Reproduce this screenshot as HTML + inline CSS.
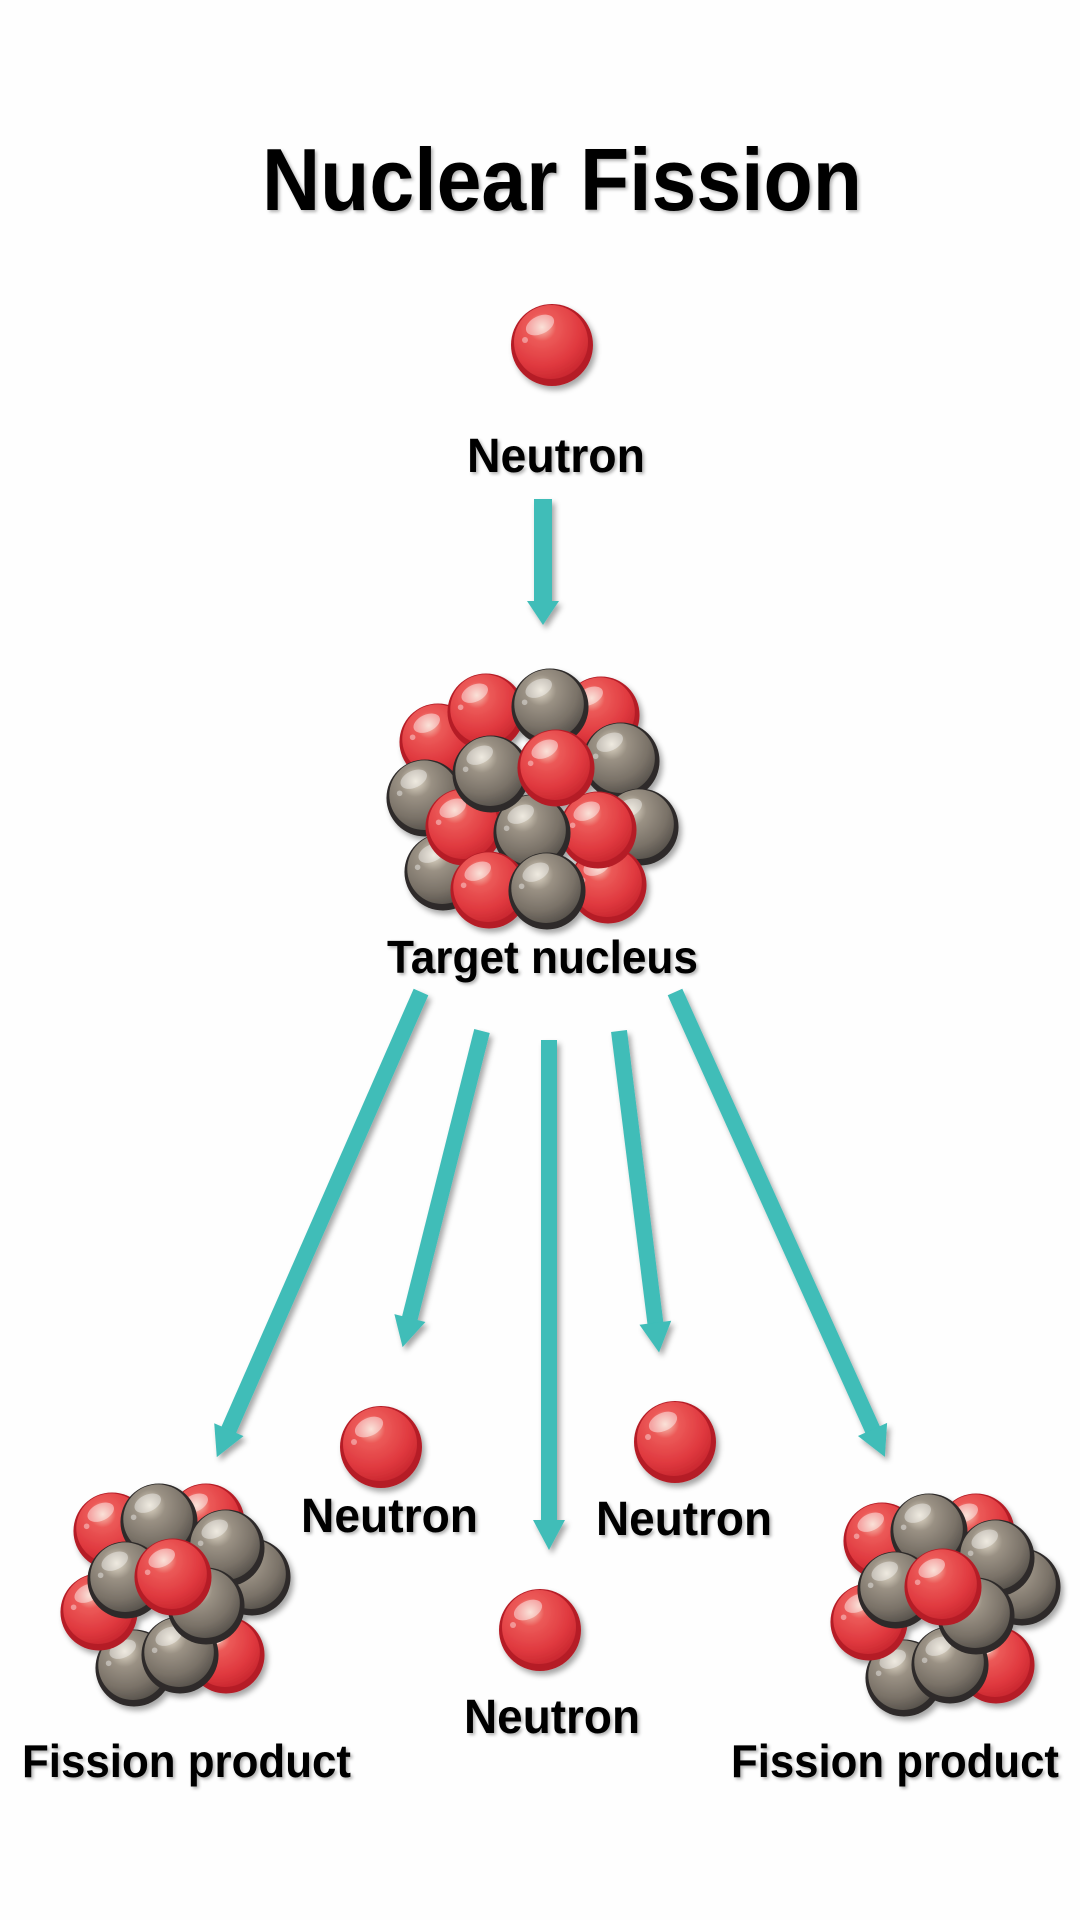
<!DOCTYPE html>
<html><head><meta charset="utf-8"><style>
html,body{margin:0;padding:0;background:#fefefe;}
svg{display:block;}
text{font-family:"Liberation Sans",sans-serif;font-weight:bold;fill:#050505;}
</style></head><body>
<svg width="1080" height="1920" viewBox="0 0 1080 1920" xmlns="http://www.w3.org/2000/svg">
<defs>
<radialGradient id="gr" cx="0.38" cy="0.3" r="0.75">
<stop offset="0" stop-color="#f6c9b8"/><stop offset="0.25" stop-color="#ec5a58"/><stop offset="0.7" stop-color="#e0393f"/><stop offset="1" stop-color="#c8262e"/>
</radialGradient>
<radialGradient id="gg" cx="0.38" cy="0.3" r="0.75">
<stop offset="0" stop-color="#e4dccb"/><stop offset="0.3" stop-color="#9a9184"/><stop offset="0.7" stop-color="#7a7268"/><stop offset="1" stop-color="#55504a"/>
</radialGradient>
<filter id="sh" x="-30%" y="-30%" width="160%" height="160%"><feDropShadow dx="3" dy="4" stdDeviation="3" flood-color="#000" flood-opacity="0.35"/></filter>
<filter id="ts" x="-5%" y="-10%" width="110%" height="130%"><feDropShadow dx="2" dy="2" stdDeviation="1.5" flood-color="#000" flood-opacity="0.3"/></filter>
<g id="R"><circle r="41" fill="#b51f28"/><circle cx="-1" cy="-3" r="37" fill="url(#gr)"/><ellipse cx="-12" cy="-20" rx="15" ry="9" fill="#fff" opacity="0.45" transform="rotate(-25 -12 -20)"/><circle cx="-27" cy="-5" r="3" fill="#fff" opacity="0.4"/></g>
<g id="r"><g transform="scale(0.94)"><use href="#R"/></g></g>
<g id="g"><g transform="scale(0.94)"><circle r="41" fill="#2e2c2a"/><circle cx="-1" cy="-3" r="37" fill="url(#gg)"/><ellipse cx="-12" cy="-20" rx="15" ry="9" fill="#fff" opacity="0.4" transform="rotate(-25 -12 -20)"/><circle cx="-27" cy="-5" r="3" fill="#fff" opacity="0.4"/></g></g>
<g id="prod">
<use href="#r" x="206" y="1522"/><use href="#r" x="112" y="1531"/><use href="#g" x="252" y="1577"/><use href="#r" x="226" y="1655"/><use href="#g" x="134" y="1668"/><use href="#g" x="180" y="1655"/><use href="#r" x="99" y="1612"/><use href="#g" x="159" y="1522"/><use href="#g" x="226" y="1548"/><use href="#g" x="126" y="1580"/><use href="#g" x="206" y="1606"/><use href="#r" x="173" y="1577"/>
</g>
</defs>

<text x="262" y="210" font-size="88" textLength="600" lengthAdjust="spacingAndGlyphs" filter="url(#ts)">Nuclear Fission</text>

<g filter="url(#sh)"><use href="#R" x="552" y="345"/></g>
<text x="467" y="472" font-size="48" textLength="178" lengthAdjust="spacingAndGlyphs" filter="url(#ts)">Neutron</text>

<g fill="#3fbdb8" filter="url(#sh)">
<g transform="translate(543,499)"><rect x="-9" y="0" width="18" height="104"/><polygon points="-16,102 16,102 0,126"/></g>
<g transform="translate(421,992) rotate(23.7)"><rect x="-8" y="0" width="16" height="482"/><polygon points="-16,478 16,478 0,508"/></g>
<g transform="translate(482,1031) rotate(14.1)"><rect x="-8" y="0" width="16" height="300"/><polygon points="-16,296 16,296 0,326"/></g>
<g transform="translate(549,1040)"><rect x="-8" y="0" width="16" height="484"/><polygon points="-16,480 16,480 0,510"/></g>
<g transform="translate(619,1031) rotate(-7.1)"><rect x="-8" y="0" width="16" height="298"/><polygon points="-16,294 16,294 0,324"/></g>
<g transform="translate(675,992) rotate(-24.3)"><rect x="-8" y="0" width="16" height="484"/><polygon points="-16,480 16,480 0,510"/></g>
</g>

<g filter="url(#sh)" transform="translate(350,640)">
<use href="#r" x="251" y="75"/><use href="#r" x="88" y="102"/><use href="#r" x="136" y="72"/><use href="#g" x="200" y="67"/>
<use href="#g" x="271" y="121"/><use href="#g" x="290" y="187"/><use href="#g" x="75" y="158"/><use href="#g" x="93" y="232"/><use href="#r" x="258" y="245"/>
<use href="#r" x="248" y="190"/><use href="#r" x="114" y="187"/><use href="#g" x="182" y="193"/><use href="#g" x="141" y="134"/><use href="#r" x="206" y="128"/>
<use href="#r" x="139" y="250"/><use href="#g" x="197" y="251"/>
</g>
<text x="387" y="973" font-size="46" textLength="311" lengthAdjust="spacingAndGlyphs" filter="url(#ts)">Target nucleus</text>

<g filter="url(#sh)"><use href="#prod"/><use href="#prod" x="770" y="10"/>
<use href="#R" x="381" y="1447"/><use href="#R" x="675" y="1442"/><use href="#R" x="540" y="1630"/></g>

<text x="301" y="1532" font-size="48" textLength="177" lengthAdjust="spacingAndGlyphs" filter="url(#ts)">Neutron</text>
<text x="596" y="1535" font-size="48" textLength="176" lengthAdjust="spacingAndGlyphs" filter="url(#ts)">Neutron</text>
<text x="464" y="1733" font-size="48" textLength="176" lengthAdjust="spacingAndGlyphs" filter="url(#ts)">Neutron</text>
<text x="22" y="1777" font-size="46" textLength="329" lengthAdjust="spacingAndGlyphs" filter="url(#ts)">Fission product</text>
<text x="731" y="1777" font-size="46" textLength="328" lengthAdjust="spacingAndGlyphs" filter="url(#ts)">Fission product</text>
</svg>
</body></html>
